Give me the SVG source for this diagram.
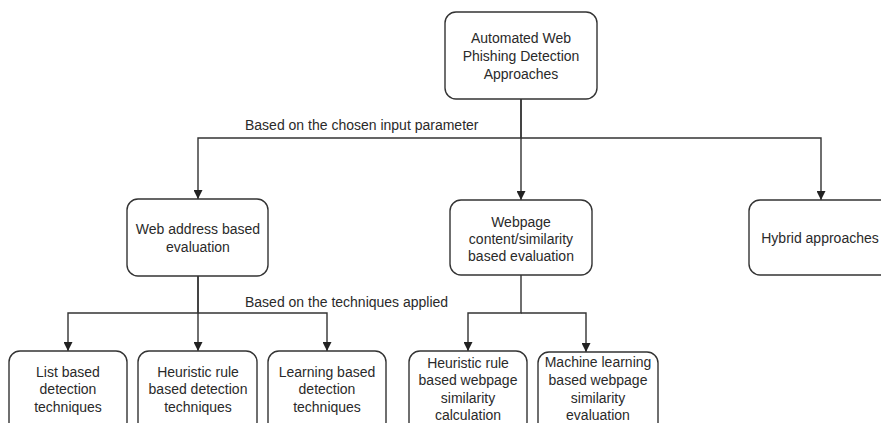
<svg xmlns="http://www.w3.org/2000/svg" width="881" height="423" viewBox="0 0 881 423">
<style>
.box{fill:#fff;stroke:#333;stroke-width:1.4}
.t{font-family:"Liberation Sans",Arial,sans-serif;font-size:14px;fill:#2a2a2a;text-anchor:middle}
.lbl{font-family:"Liberation Sans",Arial,sans-serif;font-size:14px;fill:#2a2a2a}
.c{fill:none;stroke:#333;stroke-width:1.4}
</style>
<defs>
<marker id="ah" viewBox="0 0 10 10" refX="10" refY="5" markerWidth="9" markerHeight="9" markerUnits="userSpaceOnUse" orient="auto">
<path d="M0,0 L10,5 L0,10 Z" fill="#222"/>
</marker>
</defs>
<rect width="881" height="423" fill="#fff"/>
<g id="connectors">
<path class="c" d="M521,99 V138 H198 V199" marker-end="url(#ah)"/>
<path class="c" d="M521,99 V200" marker-end="url(#ah)"/>
<path class="c" d="M521,138 H821 V200" marker-end="url(#ah)"/>
<path class="c" d="M198,276 V313 H68 V351" marker-end="url(#ah)"/>
<path class="c" d="M198,276 V351" marker-end="url(#ah)"/>
<path class="c" d="M198,313 H327 V351" marker-end="url(#ah)"/>
<path class="c" d="M521,275 V313 H468 V351" marker-end="url(#ah)"/>
<path class="c" d="M521,313 H586 V352" marker-end="url(#ah)"/>
<text class="lbl" x="245" y="130">Based on the chosen input parameter</text>
<text class="lbl" x="245" y="307">Based on the techniques applied</text>
</g>
<g id="root">
<rect class="box" x="445" y="12" width="152" height="87" rx="11"/>
<text class="t" x="521" y="43">Automated Web</text>
<text class="t" x="521" y="61">Phishing Detection</text>
<text class="t" x="521" y="79">Approaches</text>
</g>
<g id="web-address">
<rect class="box" x="127" y="199" width="141" height="77" rx="11"/>
<text class="t" x="198" y="234">Web address based</text>
<text class="t" x="198" y="252">evaluation</text>
</g>
<g id="webpage-content">
<rect class="box" x="450" y="200" width="142" height="75" rx="11"/>
<text class="t" x="521" y="227">Webpage</text>
<text class="t" x="521" y="244">content/similarity</text>
<text class="t" x="521" y="261">based evaluation</text>
</g>
<g id="hybrid">
<rect class="box" x="749" y="200" width="142" height="75" rx="11"/>
<text class="t" x="820" y="243">Hybrid approaches</text>
</g>
<g id="list-based">
<rect class="box" x="9" y="351" width="118" height="82" rx="11"/>
<text class="t" x="68" y="377">List based</text>
<text class="t" x="68" y="394">detection</text>
<text class="t" x="68" y="412">techniques</text>
</g>
<g id="heuristic-rule">
<rect class="box" x="138" y="351" width="119" height="82" rx="11"/>
<text class="t" x="198" y="377">Heuristic rule</text>
<text class="t" x="198" y="394">based detection</text>
<text class="t" x="198" y="412">techniques</text>
</g>
<g id="learning-based">
<rect class="box" x="268" y="351" width="118" height="82" rx="11"/>
<text class="t" x="327" y="377">Learning based</text>
<text class="t" x="327" y="394">detection</text>
<text class="t" x="327" y="412">techniques</text>
</g>
<g id="heuristic-webpage">
<rect class="box" x="409" y="351" width="118" height="82" rx="11"/>
<text class="t" x="468" y="368">Heuristic rule</text>
<text class="t" x="468" y="385">based webpage</text>
<text class="t" x="468" y="403">similarity</text>
<text class="t" x="468" y="420">calculation</text>
</g>
<g id="ml-webpage">
<rect class="box" x="538" y="352" width="120" height="82" rx="11"/>
<text class="t" x="598" y="367">Machine learning</text>
<text class="t" x="598" y="385">based webpage</text>
<text class="t" x="598" y="403">similarity</text>
<text class="t" x="598" y="420">evaluation</text>
</g>
</svg>
